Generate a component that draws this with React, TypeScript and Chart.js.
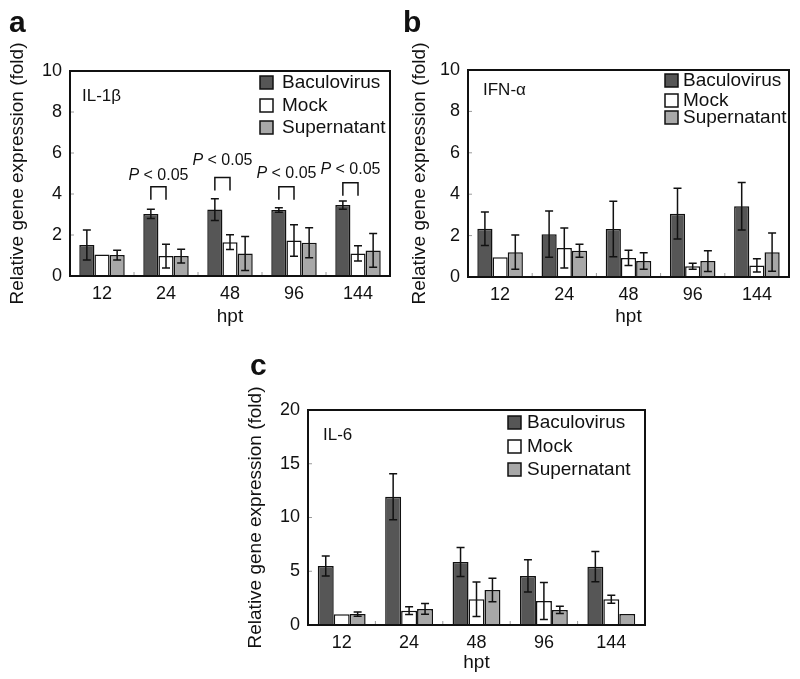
import React, { useEffect, useRef } from 'react';
import { Chart, registerables } from 'chart.js';

Chart.register(...registerables);

// ---------- data ----------
const hpt = ['12', '24', '48', '96', '144'];
const seriesNames = ['Baculovirus', 'Mock', 'Supernatant'];
const yTicksAB = [0, 2, 4, 6, 8, 10];
const yTicksC = [0, 5, 10, 15, 20];

// Panel a: IL-1β
const il1bBac = [1.51, 3.03, 3.24, 3.22, 3.46];
const il1bBacErr = [0.73, 0.23, 0.53, 0.11, 0.2];
const il1bMock = [1.05, 0.97, 1.65, 1.73, 1.1];
const il1bMockErr = [0, 0.58, 0.36, 0.77, 0.37];
const il1bSup = [1.02, 0.97, 1.1, 1.62, 1.25];
const il1bSupErr = [0.24, 0.33, 0.83, 0.73, 0.82];
const il1bBracket = [null, 4.35, 4.8, 4.35, 4.55];
const il1bPText = [null, 4.9, 5.65, 5.0, 5.2];
const pLabel = ['P', ' < 0.05'];

// Panel b: IFN-α
const ifnaBac = [2.33, 2.07, 2.32, 3.06, 3.42];
const ifnaBacErr = [0.81, 1.12, 1.34, 1.23, 1.15];
const ifnaMock = [0.96, 1.4, 0.92, 0.52, 0.56];
const ifnaMockErr = [0, 0.97, 0.37, 0.14, 0.32];
const ifnaSup = [1.2, 1.27, 0.77, 0.77, 1.2];
const ifnaSupErr = [0.83, 0.31, 0.4, 0.5, 0.92];

// Panel c: IL-6
const il6Bac = [5.49, 11.94, 5.86, 4.56, 5.43];
const il6BacErr = [0.93, 2.14, 1.35, 1.5, 1.4];
const il6Mock = [0.99, 1.33, 2.39, 2.23, 2.39];
const il6MockErr = [0, 0.36, 1.61, 1.72, 0.37];
const il6Sup = [1.02, 1.49, 3.26, 1.4, 1.02];
const il6SupErr = [0.2, 0.5, 1.1, 0.34, 0];

const yTitle = 'Relative gene expression (fold)';
const xTitle = 'hpt';

// ---------- style ----------
const FONT = '"Liberation Sans", Arial, Helvetica, sans-serif';
const COLORS = ['#565656', '#ffffff', '#a8a8a8'];
const INK = '#111111';

type Panel = {
  letter: string;
  gene: string;
  values: number[][];
  errors: number[][];
  yTicks: number[];
  brackets?: (number | null)[];
  pText?: (number | null)[];
  box: { left: number; top: number; width: number; height: number };
  area: { left: number; top: number; right: number; bottom: number };
  yTitlePad: number;
  xTitlePad: number;
  letterPos: [number, number];
  genePos: [number, number];
  legend: { fromRight: number; rows: number[]; textGap: number };
};

const panels: Panel[] = [
  {
    letter: 'a',
    gene: 'IL-1β',
    values: [il1bBac, il1bMock, il1bSup],
    errors: [il1bBacErr, il1bMockErr, il1bSupErr],
    yTicks: yTicksAB,
    brackets: il1bBracket,
    pText: il1bPText,
    box: { left: 0, top: 0, width: 400, height: 340 },
    area: { left: 70, top: 71, right: 390, bottom: 276 },
    yTitlePad: 6,
    xTitlePad: 12,
    letterPos: [9, 32],
    genePos: [12, 25],
    legend: { fromRight: 130, rows: [12, 35, 57], textGap: 9 },
  },
  {
    letter: 'b',
    gene: 'IFN-α',
    values: [ifnaBac, ifnaMock, ifnaSup],
    errors: [ifnaBacErr, ifnaMockErr, ifnaSupErr],
    yTicks: yTicksAB,
    box: { left: 400, top: 0, width: 400, height: 340 },
    area: { left: 468, top: 70, right: 789, bottom: 277 },
    yTitlePad: 8,
    xTitlePad: 12,
    letterPos: [3, 32],
    genePos: [15, 20],
    legend: { fromRight: 124, rows: [11, 31, 48], textGap: 5 },
  },
  {
    letter: 'c',
    gene: 'IL-6',
    values: [il6Bac, il6Mock, il6Sup],
    errors: [il6BacErr, il6MockErr, il6SupErr],
    yTicks: yTicksC,
    box: { left: 230, top: 320, width: 430, height: 359 },
    area: { left: 308, top: 410, right: 645, bottom: 625 },
    yTitlePad: 14,
    xTitlePad: 5,
    letterPos: [20, 55],
    genePos: [15, 25],
    legend: { fromRight: 137, rows: [13, 37, 60], textGap: 6 },
  },
];

function decorPlugin(p: Panel) {
  return {
    id: 'decor_' + p.letter,
    afterDatasetsDraw(chart: any) {
      const ctx = chart.ctx as CanvasRenderingContext2D;
      const { left, right, top, bottom } = chart.chartArea;
      const ys = chart.scales.y;
      const xs = chart.scales.x;
      ctx.save();

      // error bars
      chart.data.datasets.forEach((ds: any, i: number) => {
        const meta = chart.getDatasetMeta(i);
        meta.data.forEach((el: any, j: number) => {
          const e = p.errors[i][j];
          if (!e) return;
          const v = ds.data[j];
          const y1 = ys.getPixelForValue(v + e);
          const y2 = ys.getPixelForValue(Math.max(v - e, 0));
          const x = el.x;
          ctx.strokeStyle = INK;
          ctx.lineWidth = 1.5;
          ctx.beginPath();
          ctx.moveTo(x, y1);
          ctx.lineTo(x, y2);
          ctx.moveTo(x - 4, y1);
          ctx.lineTo(x + 4, y1);
          ctx.moveTo(x - 4, y2);
          ctx.lineTo(x + 4, y2);
          ctx.stroke();
        });
      });

      // minor inward ticks
      ctx.strokeStyle = '#9a9a9a';
      ctx.lineWidth = 1;
      ctx.beginPath();
      for (let k = 1; k < hpt.length; k++) {
        const xb = (xs.getPixelForValue(k - 1) + xs.getPixelForValue(k)) / 2;
        ctx.moveTo(xb, bottom);
        ctx.lineTo(xb, bottom - 4);
      }
      p.yTicks.forEach((t) => {
        if (t === p.yTicks[0] || t === p.yTicks[p.yTicks.length - 1]) return;
        const yy = ys.getPixelForValue(t);
        ctx.moveTo(left, yy);
        ctx.lineTo(left + 4, yy);
      });
      ctx.stroke();

      // P < 0.05 brackets
      if (p.brackets && p.pText) {
        const m0 = chart.getDatasetMeta(0);
        const m1 = chart.getDatasetMeta(1);
        p.brackets.forEach((b, j) => {
          if (b == null) return;
          const xa = m0.data[j].x;
          const xb = m1.data[j].x;
          const yb = ys.getPixelForValue(b);
          ctx.strokeStyle = INK;
          ctx.lineWidth = 1.5;
          ctx.beginPath();
          ctx.moveTo(xa, yb + 13);
          ctx.lineTo(xa, yb);
          ctx.lineTo(xb, yb);
          ctx.lineTo(xb, yb + 13);
          ctx.stroke();
          const yt = ys.getPixelForValue(p.pText![j] as number);
          ctx.fillStyle = INK;
          ctx.textBaseline = 'middle';
          ctx.textAlign = 'left';
          ctx.font = `italic 16px ${FONT}`;
          const w1 = ctx.measureText(pLabel[0]).width;
          ctx.font = `16px ${FONT}`;
          const w2 = ctx.measureText(pLabel[1]).width;
          const x0 = (xa + xb) / 2 - (w1 + w2) / 2;
          ctx.font = `italic 16px ${FONT}`;
          ctx.fillText(pLabel[0], x0, yt);
          ctx.font = `16px ${FONT}`;
          ctx.fillText(pLabel[1], x0 + w1, yt);
        });
      }

      // frame
      ctx.strokeStyle = INK;
      ctx.lineWidth = 2;
      ctx.strokeRect(left, top, right - left, bottom - top);

      // legend
      const lx = right - p.legend.fromRight;
      chart.data.datasets.forEach((ds: any, i: number) => {
        const cy = top + p.legend.rows[i];
        ctx.fillStyle = ds.backgroundColor;
        ctx.fillRect(lx, cy - 7, 13, 13);
        ctx.strokeStyle = INK;
        ctx.lineWidth = 1.5;
        ctx.strokeRect(lx, cy - 7, 13, 13);
        ctx.fillStyle = INK;
        ctx.font = `19px ${FONT}`;
        ctx.textAlign = 'left';
        ctx.textBaseline = 'middle';
        ctx.fillText(ds.label, lx + 13 + p.legend.textGap, cy);
      });

      // gene label
      ctx.fillStyle = INK;
      ctx.font = `17px ${FONT}`;
      ctx.textBaseline = 'middle';
      ctx.fillText(p.gene, left + p.genePos[0], top + p.genePos[1]);

      // panel letter
      ctx.font = `bold 30px ${FONT}`;
      ctx.textBaseline = 'alphabetic';
      ctx.fillText(p.letter, p.letterPos[0], p.letterPos[1]);

      ctx.restore();
    },
  };
}

function PanelChart({ p }: { p: Panel }) {
  const ref = useRef<HTMLCanvasElement | null>(null);
  useEffect(() => {
    if (!ref.current) return;
    const { box, area } = p;
    const yAxisWidth = area.left - box.left;
    const xAxisHeight = box.top + box.height - area.bottom;
    const chart = new Chart(ref.current, {
      type: 'bar',
      data: {
        labels: hpt,
        datasets: seriesNames.map((name, i) => ({
          label: name,
          data: p.values[i],
          backgroundColor: COLORS[i],
          borderColor: INK,
          borderWidth: 1.5,
          barPercentage: 1,
          categoryPercentage: 0.71,
        })),
      },
      options: {
        responsive: false,
        maintainAspectRatio: false,
        animation: false,
        events: [],
        layout: {
          padding: {
            left: 0,
            top: area.top - box.top,
            right: box.left + box.width - area.right,
            bottom: 0,
          },
        },
        plugins: { legend: { display: false }, tooltip: { enabled: false } },
        scales: {
          x: {
            grid: { display: false, drawTicks: false },
            border: { display: false },
            ticks: { color: INK, font: { family: FONT, size: 18 }, padding: 7 },
            title: {
              display: true,
              text: xTitle,
              color: INK,
              font: { family: FONT, size: 19 },
              padding: { top: 0, bottom: p.xTitlePad },
            },
            afterFit: (s: any) => {
              s.height = xAxisHeight;
            },
          },
          y: {
            min: p.yTicks[0],
            max: p.yTicks[p.yTicks.length - 1],
            grid: { display: false, drawTicks: false },
            border: { display: false },
            ticks: {
              stepSize: p.yTicks[1] - p.yTicks[0],
              color: INK,
              font: { family: FONT, size: 18 },
              padding: 8,
            },
            title: {
              display: true,
              text: yTitle,
              color: INK,
              font: { family: FONT, size: 19 },
              padding: { top: p.yTitlePad, bottom: 0 },
            },
            afterFit: (s: any) => {
              s.width = yAxisWidth;
            },
          },
        },
      },
      plugins: [decorPlugin(p)],
    });
    return () => chart.destroy();
  }, [p]);
  return (
    <canvas
      ref={ref}
      width={p.box.width}
      height={p.box.height}
      style={{
        position: 'absolute',
        left: p.box.left,
        top: p.box.top,
        width: p.box.width,
        height: p.box.height,
      }}
    />
  );
}

export default function App() {
  return (
    <div
      style={{
        position: 'absolute',
        left: 0,
        top: 0,
        width: 800,
        height: 679,
        background: '#ffffff',
        overflow: 'hidden',
      }}
    >
      {panels.map((p) => (
        <PanelChart key={p.letter} p={p} />
      ))}
    </div>
  );
}
